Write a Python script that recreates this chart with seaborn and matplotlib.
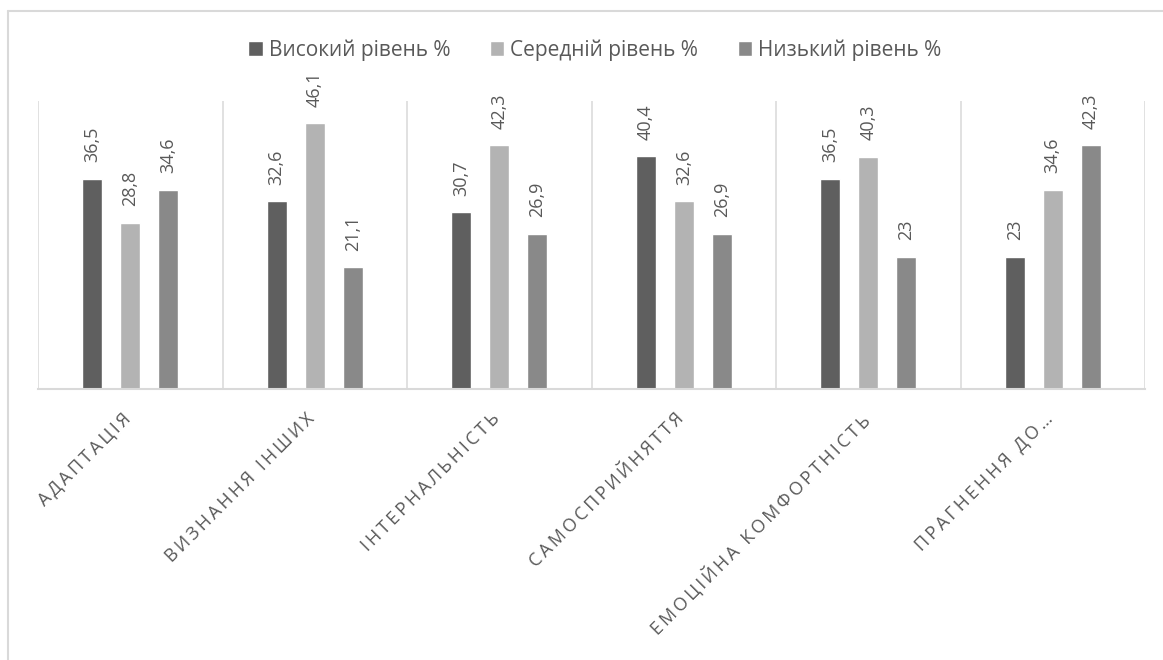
import matplotlib
matplotlib.use("Agg")
import matplotlib.pyplot as plt
from matplotlib.lines import Line2D
import matplotlib.transforms as mtransforms
import seaborn as sns
import pandas as pd

categories = ["АДАПТАЦІЯ", "ВИЗНАННЯ ІНШИХ", "ІНТЕРНАЛЬНІСТЬ", "САМОСПРИЙНЯТТЯ",
              "ЕМОЦІЙНА КОМФОРТНІСТЬ", "ПРАГНЕННЯ ДО…"]
series_names = ["Високий рівень %", "Середній рівень %", "Низький рівень %"]
high = [36.5, 32.6, 30.7, 40.4, 36.5, 23.0]
medium = [28.8, 46.1, 42.3, 32.6, 40.3, 34.6]
low = [34.6, 21.1, 26.9, 26.9, 23.0, 42.3]
colors = ["#5f5f5f", "#b3b3b3", "#898989"]

sns.set_theme(style="white")
plt.rcParams["font.family"] = ["Open Sans", "DejaVu Sans"]

rows = []
for name, vals in zip(series_names, [high, medium, low]):
    for c, v in zip(categories, vals):
        rows.append({"cat": c, "val": v, "series": name})
df = pd.DataFrame(rows)

W, H = 1163, 660
fig = plt.figure(figsize=(W / 100, H / 100), dpi=100)
ax = fig.add_axes([38 / W, 1 - 389 / H, (1145 - 38) / W, (389 - 101) / H])

sns.barplot(data=df, x="cat", y="val", hue="series", order=categories,
            hue_order=series_names, palette=colors, saturation=1,
            width=0.618, gap=0.47, errorbar=None, ax=ax)

ax.set_xlim(-0.5, len(categories) - 0.5)
ax.set_ylim(0, 50)
ax.set_xlabel("")
ax.set_ylabel("")
ax.set_yticks([])
for s in ["left", "right", "top"]:
    ax.spines[s].set_visible(False)
ax.spines["bottom"].set_color("#d9d9d9")
ax.spines["bottom"].set_linewidth(1.5)
ax.vlines([i - 0.5 for i in range(len(categories) + 1)], 0, 50,
          colors="#d9d9d9", linewidth=1.1, zorder=0)

text_col = "#595959"
for cont, vals in zip(ax.containers, [high, medium, low]):
    ax.bar_label(cont, labels=[f"{v:g}".replace(".", ",") for v in vals],
                 rotation=90, padding=12, fontsize=13, color=text_col)

sp = "\u2009"
ax.set_xticks(range(len(categories)))
ax.set_xticklabels([sp.join(list(c)) for c in categories])
ax.tick_params(axis="x", length=0, pad=15, labelsize=13, labelcolor=text_col)
offset = mtransforms.ScaledTranslation(-9 / 100, 0, fig.dpi_scale_trans)
for lab in ax.get_xticklabels():
    lab.set_rotation(45)
    lab.set_ha("right")
    lab.set_va("top")
    lab.set_rotation_mode("anchor")
    lab.set_transform(lab.get_transform() + offset)

handles, labels = ax.get_legend_handles_labels()
ax.legend(handles, labels, loc="center", bbox_to_anchor=(595 / W, 1 - 50 / H),
          bbox_transform=fig.transFigure, ncol=3, frameon=False, fontsize=15,
          labelcolor=text_col, handlelength=0.68, handleheight=0.68,
          handletextpad=0.3, columnspacing=1.9, borderaxespad=0, borderpad=0)

fig.add_artist(Line2D([7.5 / W, 1.01], [1 - 11 / H] * 2, color="#d9d9d9",
                      linewidth=1.5, transform=fig.transFigure))
fig.add_artist(Line2D([8 / W] * 2, [1 - 11 / H, -0.01], color="#d9d9d9",
                      linewidth=1.5, transform=fig.transFigure))

fig.savefig("out.png", dpi=100)
